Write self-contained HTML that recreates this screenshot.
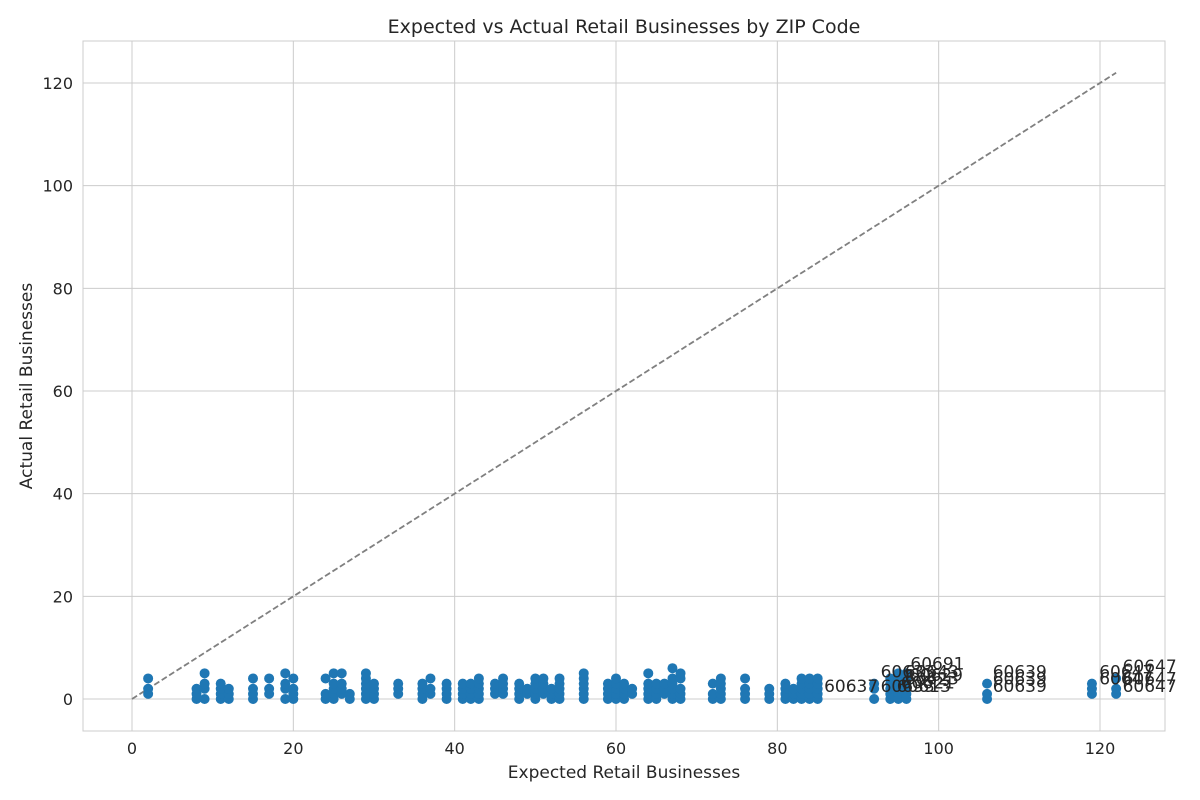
<!DOCTYPE html>
<html><head><meta charset="utf-8"><style>
html,body{margin:0;padding:0;background:#fff;}
svg{display:block;font-family:"DejaVu Sans","Liberation Sans",sans-serif;}
</style></head><body>
<svg id="chart" width="1200" height="800" viewBox="0 0 1200 800" xmlns="http://www.w3.org/2000/svg"></svg>
<script>
const xTicks=[0,20,40,60,80,100,120];
const yTicks=[0,20,40,60,80,100,120];
const columnExpected=[2,8,9,11,12,15,17,19,20,24,25,26,27,29,30,33,36,37,39,41,42,43,45,46,48,49,50,51,52,53,56,59,60,61,62,64,65,66,67,68,72,73,76,79,81,82,83,84,85,92,94,95,96,106,119,122];
const columnActual=[[1,2,4],[0,1,2],[0,2,3,5],[0,1,2,3],[0,1,2],[0,1,2,4],[1,2,4],[0,2,3,5],[0,1,2,4],[0,1,4],[0,1,2,3,5],[1,2,3,5],[0,1],[0,1,2,3,4,5],[0,1,2,3],[1,2,3],[0,1,2,3],[1,2,4],[0,1,2,3],[0,1,2,3],[0,1,2,3],[0,1,2,3,4],[1,2,3],[1,2,3,4],[0,1,2,3],[1,2],[0,1,2,3,4],[1,2,3,4],[0,1,2],[0,1,2,3,4],[0,1,2,3,4,5],[0,1,2,3],[0,1,2,3,4],[0,1,2,3],[1,2],[0,1,2,3,5],[0,1,2,3],[1,2,3],[0,1,2,3,4,6],[0,1,2,4,5],[0,1,3],[0,1,2,3,4],[0,1,2,4],[0,1,2],[0,1,2,3],[0,1,2],[0,1,2,3,4],[0,1,2,3,4],[0,1,2,3,4],[0,2,3],[0,1,2,3,4],[0,1,2,3,4,5],[0,1,2,3,4,5],[0,1,3],[1,2,3],[1,2,4]];
const labelX=[85.8,92.8,92.8,94.8,95.3,95.8,96.3,95.8,96.5,106.7,106.7,106.7,119.9,119.9,122.8,122.8,122.8];
const labelY=[2.3,2.3,5.2,2.3,3.0,3.8,4.5,5.2,6.7,5.2,3.8,2.3,5.2,3.8,6.2,3.8,2.3];
const labelText=["60637","60633","60633","60613","60621","60623","60629","60643","60691","60639","60639","60639","60647","60647","60647","60647","60647"];
const L=83,R=1165,T=41,B=731;
const X=v=>132+v*(1100-132)/120;
const Y=v=>699-v*(699-83)/120;
const NS="http://www.w3.org/2000/svg";
const svg=document.getElementById('chart');
function mk(tag,attrs,parent){const e=document.createElementNS(NS,tag);for(const k in attrs)e.setAttribute(k,attrs[k]);(parent||svg).appendChild(e);return e;}
xTicks.forEach(t=>{
  const g=mk('line',{x1:X(t),x2:X(t),y1:T,y2:B,stroke:'#cccccc','stroke-width':1});
  
  
  const tx=mk('text',{x:X(t),y:754,'text-anchor':'middle','font-size':16,fill:'#262626'});
  tx.textContent=t;
  
  
});
yTicks.forEach(t=>{
  const g=mk('line',{x1:L,x2:R,y1:Y(t),y2:Y(t),stroke:'#cccccc','stroke-width':1});
  
  
  const tx=mk('text',{x:73,y:Y(t)+6,'text-anchor':'end','font-size':16,fill:'#262626'});
  tx.textContent=t;
  
  
});
const frame=mk('rect',{x:L,y:T,width:R-L,height:B-T,fill:'none',stroke:'#cccccc','stroke-width':1});


const diag=mk('line',{x1:X(0),y1:Y(0),x2:X(122),y2:Y(122),stroke:'#808080','stroke-width':1.8,'stroke-dasharray':'6,2.8'});


columnExpected.forEach((ex,i)=>{
  columnActual[i].forEach(a=>{
    const c=mk('circle',{cx:X(ex),cy:Y(a),r:5,fill:'#1f77b4'});
    
    
  });
});
labelText.forEach((s,i)=>{
  const t=mk('text',{x:X(labelX[i]),y:Y(labelY[i])+5,'font-size':17,fill:'#262626'});
  t.textContent=s;
  
  
});
const title=mk('text',{x:624,y:33,'text-anchor':'middle','font-size':19,fill:'#262626'});
title.textContent='Expected vs Actual Retail Businesses by ZIP Code';


const xt=mk('text',{x:624,y:778,'text-anchor':'middle','font-size':17,fill:'#262626'});
xt.textContent='Expected Retail Businesses';


const yt=mk('text',{x:0,y:0,'text-anchor':'middle','font-size':17,fill:'#262626',transform:'translate(32,386) rotate(-90)'});
yt.textContent='Actual Retail Businesses';


</script>
</body></html>
